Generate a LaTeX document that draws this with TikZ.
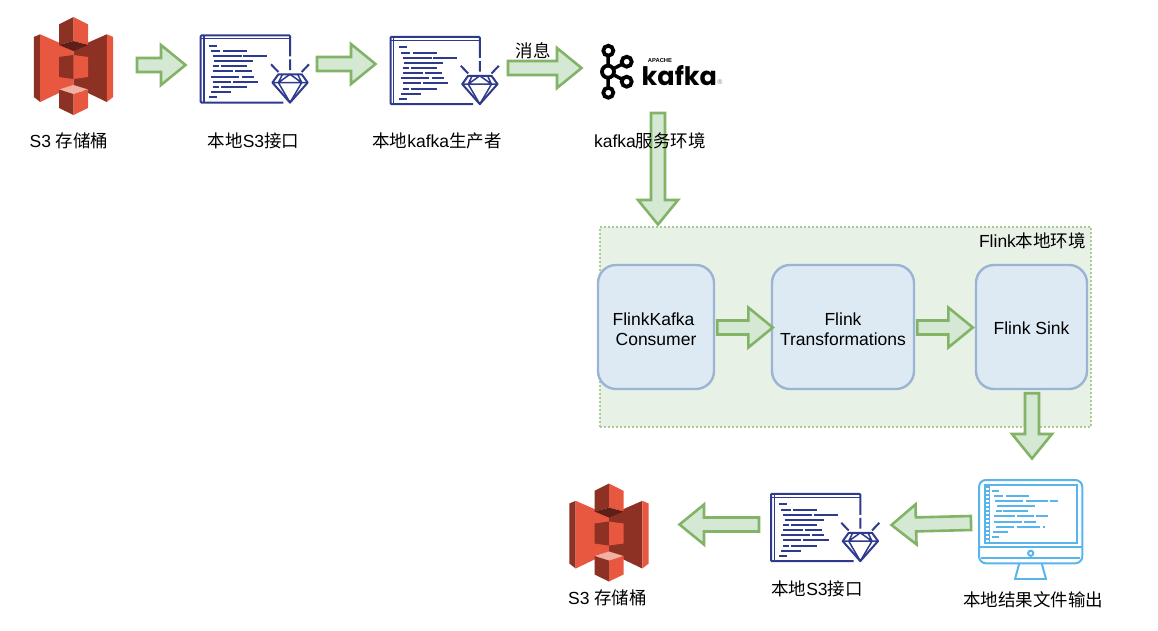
\documentclass[tikz,border=0pt]{standalone}
\usepackage{fontspec}
\setmainfont{Liberation Sans}
\newfontfamily\cjk{Noto Sans CJK SC}
\newfontfamily\logofont{Poppins}
\usetikzlibrary{calc}

\definecolor{s3light}{HTML}{E8573F}
\definecolor{s3dark}{HTML}{8C3123}
\definecolor{s3under}{HTML}{5E1F18}
\definecolor{s3top}{HTML}{F2B0A3}
\definecolor{codeblue}{HTML}{2E3A8C}
\definecolor{screenblue}{HTML}{5AB4EC}
\definecolor{flowdraw}{HTML}{82B366}
\definecolor{flowfill}{HTML}{D5E8D4}
\definecolor{envdraw}{HTML}{A9CC96}
\definecolor{envfill}{HTML}{E8F1E6}
\definecolor{boxdraw}{HTML}{9CB4D3}
\definecolor{boxfill}{HTML}{DEEAF3}

\tikzset{
  iconbox/.style={inner sep=0pt, outer sep=0pt},
  textlabel/.style={inner sep=0pt, font=\fontsize{17.5}{20}\selectfont, align=center},
  flinkbox/.style={draw=boxdraw, fill=boxfill, line width=2.4pt, rounded corners=18pt, inner sep=0pt, minimum height=124pt, align=center, font=\fontsize{17.5}{20}\selectfont},
  flowline/.style={draw=flowdraw, fill=flowfill, line width=2.6pt},
  pics/s3icon/.style={code={
    \fill[s3dark] (-39.7,-29) -- (-33.3,-31.7) -- (-33.3,36) -- (-39.7,31) -- cycle;
    \fill[s3light] (-33.3,-31.7) -- (0,-17) -- (0,20) -- (-33.3,36) -- cycle;
    \fill[s3dark] (33.3,-31.7) -- (0,-17) -- (0,20) -- (33.3,36) -- cycle;
    \fill[s3light] (33.3,-31.7) -- (39.7,-29) -- (39.7,31) -- (33.3,36) -- cycle;
    \fill[s3dark] (-14.5,-9) -- (0,-11) -- (0,13) -- (-14.5,11) -- cycle;
    \fill[s3light] (14.5,-9) -- (0,-11) -- (0,13) -- (14.5,11) -- cycle;
    \fill[s3dark] (-14.5,-41.7) -- (0,-49) -- (0,-25) -- (-14.5,-21) -- cycle;
    \fill[s3light] (14.5,-41.7) -- (0,-49) -- (0,-25) -- (14.5,-21) -- cycle;
    \fill[s3under] (-14.5,-21) -- (0,-25) -- (14.5,-21) -- (0,-15) -- cycle;
    \fill[s3top] (-14.5,23.5) -- (0,19) -- (14.5,23.5) -- (0,28) -- cycle;
    \fill[s3dark] (-14.5,23.5) -- (0,28) -- (0,49) -- (-14.5,42) -- cycle;
    \fill[s3light] (14.5,23.5) -- (0,28) -- (0,49) -- (14.5,42) -- cycle;
  }},
  pics/codeicon/.style={code={
    \begin{scope}[shift={(-53.5,-33.7)}, draw=codeblue, line width=2pt]
    \draw[rounded corners=1pt] (89.3,21) -- (89.3,0) -- (0,0) -- (0,67.3) -- (82.7,67.3);
    \draw[line width=1.2pt] (3.3,0) -- (3.3,67.3) (0,3.3) -- (89.3,3.3);
    \foreach \y/\a/\b/\c/\d in {10.3/8.3/16.3/0/0, 15.7/10.3/19.7/22.3/46, 20.7/12/41/42.7/66.7, 26/13.7/52.7/0/0, 31/12/18.3/20.3/46, 36/12/32/34.3/51, 41.3/10/38.7/41/53, 46.3/12/30.3/32.3/57.7, 51.7/12/18.3/20.3/46, 56.7/10.3/30.3/0/0, 61.7/8.3/16.3/0/0}
      \draw (\a,\y) -- (\b,\y) (\c,\y) -- (\d,\y);
    \draw[line join=round] (71.7,47.3) -- (77.7,39) -- (101,39) -- (107,47.3) -- (89.3,67.3) -- cycle;
    \draw[line width=1.5pt, line join=round] (71.7,47.3) -- (107,47.3) (81.7,39) -- (77.7,47.3) -- (89.3,67.3) -- (101,47.3) -- (97,39) (77.7,47.3) -- (89.3,39) -- (101,47.3);
    \draw (70.3,29) -- (77.7,36.7) (108.3,29) -- (101,36.7) (89.3,24) -- (89.3,34.7);
    \end{scope}
  }},
  pics/screenicon/.style={code={
    \begin{scope}[shift={(-51.5,-49.5)}, draw=screenblue, line width=2pt]
    \draw[rounded corners=7pt] (0,0) rectangle (103.3,83.3);
    \draw (5.7,5.3) rectangle (98.3,62.7);
    \draw[line width=1.2pt] (10.3,5.3) -- (10.3,62.7);
    \draw[line width=3pt, dash pattern=on 2pt off 2pt] (8,6) -- (8,62);
    \draw (0,67.3) -- (103.3,67.3) (2,78.3) -- (101.3,78.3);
    \draw (51.7,73.3) circle (2.6pt);
    \draw (40.3,83.3) -- (36,99) (62.7,83.3) -- (67,99);
    \draw (35.3,99) -- (67.7,99);
    \foreach \y/\a/\b/\c/\d/\e/\f in {10.7/13.3/20.3/0/0/0/0, 16/15/23.7/26.7/50/0/0, 21/16/44.3/47/69.3/71/79.3, 26/18.3/56.3/0/0/0/0, 31.3/16.7/22.7/24.3/49.3/0/0, 36.3/15.3/36/38.3/55/57/69.3, 41.7/15.3/42.7/45.3/56.7/0/0, 46.7/16.7/35.3/37.7/61/63.7/66, 52/14.3/29.3/0/0/0/0, 57/13.3/20.3/0/0/0/0}
      \draw (\a,\y) -- (\b,\y) (\c,\y) -- (\d,\y) (\e,\y) -- (\f,\y);
    \end{scope}
  }},
  pics/kafkaicon/.style={code={
    \draw[line width=3.8pt] (-53.2,-20.3) circle (5pt) (-53.2,21.7) circle (5pt) (-53.5,0.7) circle (6pt) (-34.8,-9.3) circle (5pt) (-34.8,10.7) circle (5pt);
    \draw[line width=3.5pt] (-53.3,-15) -- (-53.3,-5) (-53.3,6.5) -- (-53.3,16.5) (-48.2,-2.2) -- (-39.2,-7) (-48.2,3.6) -- (-39.2,8.4);
    \node[anchor=base west, inner sep=0pt, font=\logofont\bfseries\fontsize{25.5}{26}\selectfont] (word) at (-20,14) {kafka};
    \node[inner sep=0pt, font=\bfseries\fontsize{5.8}{6}\selectfont] (apache) at (-1.5,-10.3) {APACHE};
    \node[inner sep=0pt, text=gray, font=\fontsize{7}{8}\selectfont] (mark) at (58.5,11) {®};
  }}
}

\newcommand{\flowarrow}[2]{
  \coordinate (tail) at #1;
  \coordinate (tip) at #2;
  \coordinate (neck) at ($(tip)!24.5pt!(tail)$);
  \draw[flowline] ($(tail)!7pt!90:(tip)$) -- ($(neck)!7pt!-90:(tail)$) -- ($(neck)!20pt!-90:(tail)$) -- (tip) -- ($(neck)!20pt!90:(tail)$) -- ($(neck)!7pt!90:(tail)$) -- ($(tail)!7pt!-90:(tip)$) -- cycle;
}

\begin{document}
\begin{tikzpicture}[x=1pt, y=-1pt]
\useasboundingbox (0,0) rectangle (1158,630);

% upper row of icons
\node[iconbox, minimum width=80pt, minimum height=98pt] (s3a) at (73.5,66) {};
\pic at (s3a) {s3icon};
\node[iconbox, minimum width=107pt, minimum height=68pt] (apia) at (254.2,69) {};
\pic at (apia) {codeicon};
\node[iconbox, minimum width=107pt, minimum height=68pt] (apib) at (444,70.5) {};
\pic at (apib) {codeicon};
\node[iconbox, minimum width=123pt, minimum height=57pt] (kafka) at (661.5,71) {};
\pic at (kafka) {kafkaicon};

% flink part
\node[draw=envdraw, fill=envfill, line width=2pt, dash pattern=on 2pt off 2pt, minimum width=491pt, minimum height=200pt, inner sep=0pt] (flinkenv) at (845,327) {};
\node[flinkbox, minimum width=116pt] (consumer) at (656,327) {\rule{0pt}{18pt}FlinkKafka\hspace*{5pt}\\Consumer};
\node[flinkbox, minimum width=142pt] (trans) at (843,327) {\rule{0pt}{18pt}Flink\\Transformations};
\node[flinkbox, minimum width=111pt] (sink) at (1031.5,327) {\rule{0pt}{15pt}Flink Sink};

% lower row of icons
\node[iconbox, minimum width=103pt, minimum height=99pt] (output) at (1030.5,529.5) {};
\pic at (output) {screenicon};
\node[iconbox, minimum width=107pt, minimum height=68pt] (apic) at (824.5,527.5) {};
\pic at (apic) {codeicon};
\node[iconbox, minimum width=80pt, minimum height=98pt] (s3b) at (609,532.5) {};
\pic at (s3b) {s3icon};

% arrows
\flowarrow{($(s3a.east)+(23.5,-1)$)}{($(apia.west)+(-15.2,-4)$)}
\flowarrow{($(apia.east)+(9.3,-5)$)}{($(apib.west)+(-15,-6.5)$)}
\flowarrow{($(apib.east)+(10.5,-2.5)$)}{($(kafka.west)+(-18.5,-3)$)}
\flowarrow{($(kafka.south)+(-3.5,13.5)$)}{($(flinkenv.north)+(-187,-1.5)$)}
\flowarrow{($(consumer.east)+(2,0.5)$)}{($(trans.west)+(2,0.5)$)}
\flowarrow{($(trans.east)+(2,0.5)$)}{($(sink.west)+(-2,0.5)$)}
\flowarrow{($(sink.south)+(0.5,3)$)}{($(output.north)+(1.5,-21.5)$)}
\flowarrow{($(output.west)+(-8,-6.5)$)}{($(apic.east)+(13.5,-2.5)$)}
\flowarrow{($(apic.west)+(-12,-3)$)}{($(s3b.east)+(30.5,-8)$)}

% labels
\node[textlabel] (lbls3a) at (69,141) {S3 {\cjk 存储桶}};
\node[textlabel] (lblapia) at (253.5,141) {{\cjk 本地}S3{\cjk 接口}};
\node[textlabel] (lblapib) at (437,141) {{\cjk 本地}kafka{\cjk 生产者}};
\node[textlabel] (lblkafka) at (650,141) {kafka{\cjk 服务环境}};
\node[textlabel] (lblmsg) at (533,51) {\cjk 消息};
\node[textlabel] (lblenv) at (1032.5,241) {Flink{\cjk 本地环境}};
\node[textlabel] (lbls3b) at (607.5,598) {S3 {\cjk 存储桶}};
\node[textlabel] (lblapic) at (817,589) {{\cjk 本地}S3{\cjk 接口}};
\node[textlabel] (lbloutput) at (1033,600) {\cjk 本地结果文件输出};
\end{tikzpicture}
\end{document}
